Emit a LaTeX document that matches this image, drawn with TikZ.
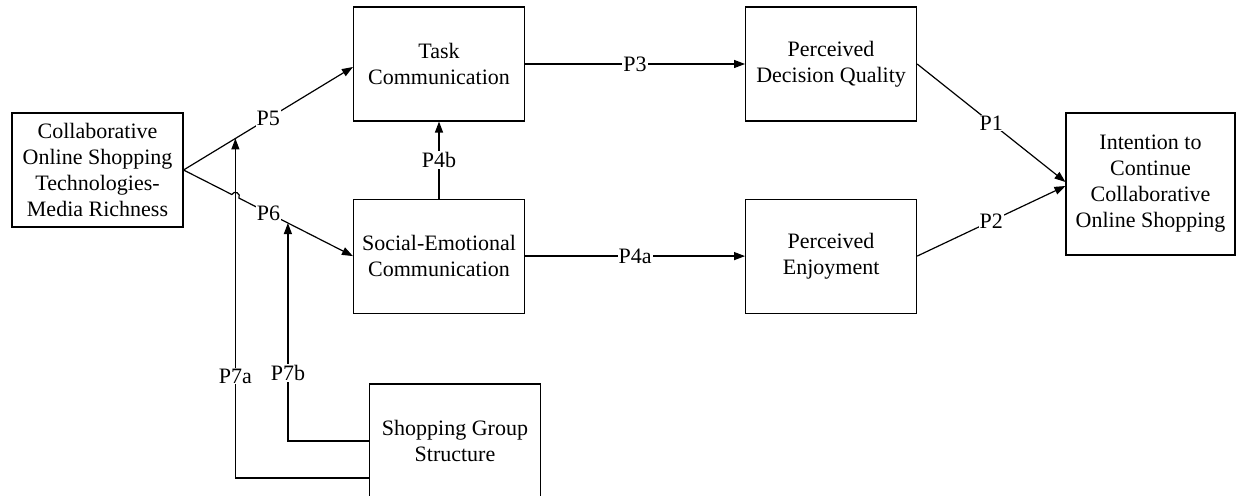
\documentclass[tikz,border=0pt]{standalone}
\usepackage{fontspec}
\setmainfont{Liberation Serif}
\usetikzlibrary{arrows.meta,positioning,calc}

\tikzset{
  construct/.style={draw, line width=1.1pt, minimum width=171pt, minimum height=114pt,
    inner sep=0pt, align=center, font=\fontsize{22}{26}\selectfont},
  path label/.style={fill=white, inner sep=1pt, font=\fontsize{22}{26}\selectfont},
  >={Triangle[length=11pt,width=8pt]}
}

\begin{document}
\begin{tikzpicture}[x=1pt,y=1pt,line width=1.2pt]
        \useasboundingbox (0,0) rectangle (1236,495);

        \node[construct] (media richness) at (97.5,325) {Collaborative\\Online Shopping\\Technologies-\\Media Richness};
        \node[construct] (task comm) at (439,431) {Task\\Communication};
        \node[construct] (social comm) [below=77pt of task comm] {Social-Emotional\\Communication};
        \node[construct] (decision quality) [right=220pt of task comm] {Perceived\\Decision Quality};
        \node[construct] (enjoyment) [below=77pt of decision quality] {Perceived\\Enjoyment};
        \node[construct, minimum width=169pt, minimum height=142pt] (intention) at (1150.5,311)
                {Intention to\\Continue\\Collaborative\\Online Shopping};
        \node[construct] (group structure) at (455,54) {Shopping Group\\Structure};

        \coordinate (p5 mid) at ($(media richness.east)!0.306!([yshift=-3pt]task comm.west)$);
        \coordinate (p6 hop) at ($(media richness.east)!0.306!(social comm.west)$);
        \coordinate (p6 mid) at ($(media richness.east)!0.616!(social comm.west)$);

        \draw [->] (media richness.east) -- node[path label] {P5} ([yshift=-3pt]task comm.west);
        \draw [->] (media richness.east) -- ($(p6 hop)!4pt!(media richness.east)$)
                arc[start angle=153.5, end angle=-26.5, radius=4pt]
                -- node[path label, pos=0.26] {P6} (social comm.west);
        \draw [->] ([yshift=-37pt]group structure.west) -| node[path label, pos=0.65] {P7a} (p5 mid);
        \draw [->] (group structure.west) -| node[path label, pos=0.656] {P7b} (p6 mid);

        \draw [->] (social comm) -- node[path label] {P4b} (task comm);
        \draw [->] (task comm) -- node[path label] {P3} (decision quality);
        \draw [->] (social comm) -- node[path label] {P4a} (enjoyment);
        \draw [->] (decision quality.east) -- node[path label] {P1} ([yshift=2pt]intention.west);
        \draw [->] (enjoyment.east) -- node[path label] {P2} ([yshift=-2pt]intention.west);
\end{tikzpicture}
\end{document}
